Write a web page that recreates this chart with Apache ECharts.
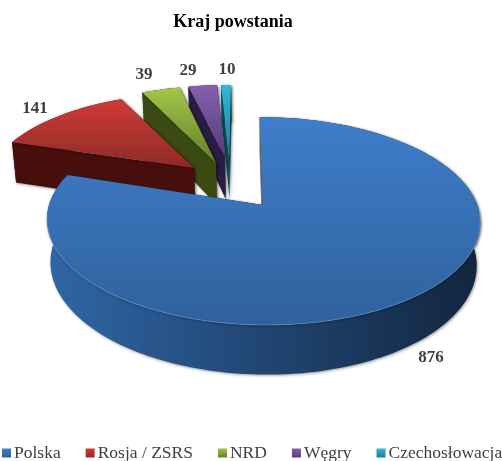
<!DOCTYPE html>
<html>
<head>
<meta charset="utf-8">
<style>html,body{margin:0;padding:0;background:#fff}#c{width:502px;height:461px}</style>
<script src="https://cdn.jsdelivr.net/npm/echarts@6/dist/echarts.min.js"></script>
</head>
<body>
<div id="c"></div>
<script>
const titleText = 'Kraj powstania';
const categories = ['Polska', 'Rosja / ZSRS', 'NRD', 'Węgry', 'Czechosłowacja'];
const counts = [876, 141, 39, 29, 10];

// layout of the exploded perspective slices
const apexX = [263, 194, 216, 225, 229];
const apexY = [205, 168, 163, 157, 157];
const scaleA = [214, 202, 198, 200, 200];
const scaleB = [101.5, 87, 89, 83, 83];
const skewS = [-3.5, 5, 2, 2.3, 2.3];
const depth = [42, 42, 42, 42, 42];
const persp = 0.154, vanishX = 265, converge = 0.016;
const labelX = [431, 35, 144, 188, 227];
const labelY = [358, 109, 75, 71, 70];

// colours
const topLight = ['#3f7ecb', '#cf3b37', '#a3c84a', '#8460ae', '#33b8da'];
const topDark = ['#2f619c', '#8e2a27', '#627f27', '#553b78', '#1b7d98'];
const wallA = ['#2f66a6', '#4a110e', '#3c4d14', '#2f2049', '#0f5f74'];
const wallB = ['#12253e', '#470f0c', '#3a4a12', '#2b1c45', '#0c4f62'];

const total = counts.reduce((a, b) => a + b, 0);
const starts = [];
counts.reduce((acc, v, i) => { starts[i] = acc; return acc + v; }, 0);

function project(i, u, v, down) {
  const w = 1 + persp * v;
  let x = apexX[i] + (scaleA[i] * u + skewS[i] * v) / w;
  let y = apexY[i] - scaleB[i] * v / w;
  if (down) {
    y += depth[i] / w;
    x += (vanishX - x) * converge;
  }
  return [x, y];
}
function arc(i, down) {
  const a0 = starts[i] / total * 2 * Math.PI;
  const a1 = (starts[i] + counts[i]) / total * 2 * Math.PI;
  const n = Math.max(6, Math.round((a1 - a0) * 40));
  const pts = [];
  for (let k = 0; k <= n; k++) {
    const t = a0 + (a1 - a0) * k / n;
    pts.push(project(i, Math.sin(t), Math.cos(t), down));
  }
  return pts;
}
function grad(x2, y2, c0, c1) {
  return new echarts.graphic.LinearGradient(0, 0, x2, y2, [
    { offset: 0, color: c0 }, { offset: 1, color: c1 }
  ]);
}
const shadow = { shadowColor: 'rgba(0,0,0,0.4)', shadowBlur: 3, shadowOffsetX: 1, shadowOffsetY: 1 };

function renderSlice(i, api) {
  const value = api.value(0);
  const apexT = project(i, 0, 0, false);
  const apexB = project(i, 0, 0, true);
  const top = arc(i, false);
  const bot = arc(i, true);
  const n = top.length - 1;
  const children = [];
  const wallSolid = Object.assign({ fill: wallB[i] }, shadow);
  // radial wall on the far (clockwise) side, then the arc wall
  children.push({ type: 'polygon', shape: { points: [apexT, top[n], bot[n], apexB] }, style: wallSolid });
  children.push({
    type: 'polygon',
    shape: { points: top.concat(bot.slice().reverse()) },
    style: Object.assign({ fill: grad(1, 0, wallA[i], wallB[i]) }, shadow)
  });
  // radial wall on the near side
  children.push({
    type: 'polygon',
    shape: { points: [apexT, top[0], bot[0], apexB] },
    style: i === 0 ? { fill: '#3a4654', stroke: '#6d7680', lineWidth: 1 } : wallSolid
  });
  // top face
  children.push({
    type: 'polygon',
    shape: { points: [apexT].concat(top) },
    style: Object.assign({ fill: grad(0, 1, topLight[i], topDark[i]) }, shadow)
  });
  if (i === 0) {
    const front = top.filter(p => p[1] > apexY[0] + 8);
    children.push({
      type: 'polyline', shape: { points: front },
      style: { fill: 'none', stroke: 'rgba(110,165,230,0.55)', lineWidth: 1 }
    });
  }
  children.push({
    type: 'text',
    style: {
      text: String(value), x: labelX[i], y: labelY[i], align: 'center', verticalAlign: 'middle',
      fill: '#404040', font: 'bold 17px "Liberation Serif"'
    }
  });
  return { type: 'group', children };
}

const series = categories.map((name, i) => ({
  type: 'custom',
  name,
  coordinateSystem: 'none',
  z: 10 - i,
  silent: true,
  data: [counts[i]],
  itemStyle: { color: topLight[i] },
  renderItem: (params, api) => renderSlice(i, api)
}));

const chart = echarts.init(document.getElementById('c'), null, { renderer: 'canvas' });
chart.setOption({
  animation: false,
  backgroundColor: '#fff',
  title: {
    text: titleText, left: 228, top: 8, textAlign: 'center',
    textStyle: { color: '#000', fontFamily: 'Liberation Serif', fontWeight: 'bold', fontSize: 18 }
  },
  legend: {
    left: 2, top: 444, padding: 0, width: 600, itemGap: 25, itemWidth: 9, itemHeight: 9, icon: 'rect',
    selectedMode: false,
    textStyle: { color: '#404040', fontFamily: 'Liberation Serif', fontSize: 17.5, padding: [0, 0, 0, -2] },
    data: categories.map((name, i) => ({
      name, icon: 'rect', itemStyle: { color: grad(0, 1, topLight[i], topDark[i]) }
    }))
  },
  series
});
</script>
</body>
</html>
